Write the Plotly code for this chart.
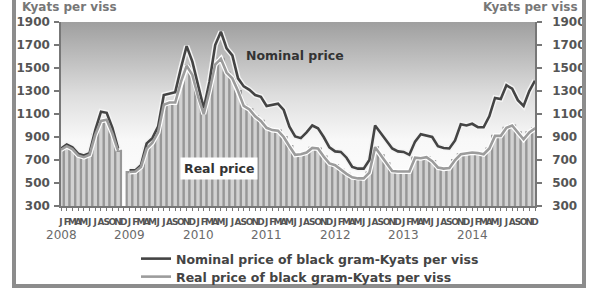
import plotly.graph_objects as go

# ---------------- data ----------------
years = ["2008", "2009", "2010", "2011", "2012", "2013", "2014"]
month_letters = ["J", "F", "M", "A", "M", "J", "J", "A", "S", "O", "N", "D"]

nominal_price = [
    800, 835, 810, 755, 740, 760, 960, 1120, 1110, 980, 800, None,      # 2008
    610, 610, 655, 845, 890, 990, 1265, 1280, 1290, 1500, 1690, 1555,   # 2009
    1340, 1150, 1380, 1700, 1815, 1670, 1610, 1410, 1340, 1310, 1265, 1250,  # 2010
    1170, 1180, 1190, 1135, 990, 905, 890, 940, 1000, 975, 900, 810,    # 2011
    775, 770, 720, 640, 625, 625, 700, 1000, 930, 870, 800, 775,        # 2012
    770, 745, 860, 925, 910, 900, 820, 805, 800, 870, 1010, 1000,       # 2013
    1015, 985, 985, 1080, 1240, 1230, 1350, 1320, 1220, 1170, 1300, 1390,  # 2014
]
real_price = [
    790, 820, 795, 740, 725, 745, 920, 1040, 1050, 930, 780, None,      # 2008
    595, 600, 640, 800, 850, 940, 1180, 1200, 1200, 1380, 1520, 1440,   # 2009
    1250, 1100, 1300, 1530, 1580, 1460, 1410, 1300, 1170, 1140, 1080, 1040,  # 2010
    980, 960, 955, 900, 820, 745, 750, 765, 805, 800, 730, 670,         # 2011
    655, 615, 580, 550, 540, 540, 590, 810, 740, 670, 605, 600,         # 2012
    600, 600, 720, 715, 725, 690, 635, 625, 630, 700, 750, 760,         # 2013
    765, 760, 750, 800, 910, 910, 980, 1000, 940, 880, 940, 975,        # 2014
]
y_min, y_max, y_step = 300, 1900, 200

# ---------------- figure ----------------
months = list(range(len(nominal_price)))
tick_text = month_letters * len(years)
x_first, x_last = months[0], months[-1]

W, H = 594, 290
L, R, T, B = 61, 59, 22, 84
pw, ph = W - L - R, H - T - B

def px_x(p):
    return (p - L) / pw

def px_y(p):
    return (H - B - p) / ph

FONT = "DejaVu Sans"

fig = go.Figure()

# plot-area gradient background (base subplot)
fig.add_trace(go.Scatter(
    x=[x_first, x_last, x_last, x_first, x_first],
    y=[y_min, y_min, y_max, y_max, y_min],
    fill="toself", mode="none",
    fillgradient=dict(type="vertical",
                      colorscale=[[0, "#ffffff"], [0.36, "#f8f8f8"],
                                  [0.6, "#dedede"], [1, "#9f9f9f"]]),
    hoverinfo="skip", showlegend=False, yaxis="y"))

# striped bars of real price (overlay subplot)
fig.add_trace(go.Bar(
    x=months, y=real_price, width=1,
    marker=dict(color="#d2d2d2", line=dict(width=2.2, color="#979797")),
    hoverinfo="skip", showlegend=False, yaxis="y2"))

# white halos
fig.add_trace(go.Scatter(
    x=months, y=real_price, mode="lines",
    line=dict(color="#ffffff", width=5), connectgaps=False,
    hoverinfo="skip", showlegend=False, yaxis="y2"))
fig.add_trace(go.Scatter(
    x=months, y=nominal_price, mode="lines",
    line=dict(color="#f4f4f4", width=5.5), connectgaps=False,
    hoverinfo="skip", showlegend=False, yaxis="y2"))

fig.add_trace(go.Scatter(
    x=months, y=nominal_price, mode="lines",
    name="Nominal price of black gram-Kyats per viss",
    line=dict(color="#444444", width=2.6), connectgaps=False, yaxis="y2",
    legend="legend"))
fig.add_trace(go.Scatter(
    x=months, y=real_price, mode="lines",
    name="Real price of black gram-Kyats per viss",
    line=dict(color="#9c9c9c", width=2.6), connectgaps=False, yaxis="y2",
    legend="legend2"))

tickfont = dict(family=FONT, size=12, color="#555555", weight="bold")
yax_common = dict(
    range=[y_min, y_max], dtick=y_step, tick0=y_min,
    showgrid=False, zeroline=False,
    showline=True, linecolor="#777777", linewidth=1.5,
    ticks="outside", ticklen=5, tickcolor="#777777", tickwidth=1.5,
    tickfont=tickfont,
)

legend_font = dict(family=FONT, size=12.5, color="#444444", weight="bold")
legend_common = dict(xanchor="left", yanchor="middle", orientation="v",
                     bgcolor="rgba(0,0,0,0)", font=legend_font, itemwidth=30)

fig.update_layout(
    width=W, height=H,
    margin=dict(l=L, r=R, t=T, b=B, pad=0, autoexpand=False),
    paper_bgcolor="#ffffff", plot_bgcolor="#ffffff",
    barmode="overlay",
    font=dict(family=FONT, size=11, color="#555555"),
    xaxis=dict(
        range=[x_first, x_last], tickmode="array",
        tickvals=months, ticktext=tick_text, tickangle=0,
        tickfont=dict(family=FONT, size=9, color="#555555", weight="bold"),
        showgrid=False, zeroline=False,
        showline=True, linecolor="#777777", linewidth=1.5,
        ticks="outside", ticklen=3, tickcolor="#777777",
        ticklabelstandoff=3,
    ),
    yaxis=dict(side="left", ticklabelstandoff=2, **yax_common),
    yaxis2=dict(side="right", overlaying="y", matches="y",
                ticklabelstandoff=8, **yax_common),
    legend=dict(x=px_x(136), y=px_y(259), **legend_common),
    legend2=dict(x=px_x(136), y=px_y(277), **legend_common),
    showlegend=True,
)

# year labels under each January
for k, yr in enumerate(years):
    fig.add_annotation(
        x=months[k * len(month_letters)], y=px_y(235), xref="x", yref="paper",
        text=yr, showarrow=False, xanchor="center", yanchor="middle",
        font=dict(family=FONT, size=12, color="#6a6a6a"))

# unit labels
unit_font = dict(family=FONT, size=12, color="#777777", weight="bold")
fig.add_annotation(x=px_x(20), y=px_y(7), xref="paper", yref="paper",
                   text="Kyats per viss", showarrow=False,
                   xanchor="left", yanchor="middle", font=unit_font)
fig.add_annotation(x=px_x(580), y=px_y(7), xref="paper", yref="paper",
                   text="Kyats per viss", showarrow=False,
                   xanchor="right", yanchor="middle", font=unit_font)

# in-chart labels
fig.add_annotation(x=41, y=1613, xref="x", yref="y",
                   text="Nominal price", showarrow=False,
                   font=dict(family=FONT, size=12.5, color="#333333", weight="bold"))
fig.add_annotation(x=27.7, y=622, xref="x", yref="y",
                   text="Real price", showarrow=False, bgcolor="#ffffff",
                   borderpad=3,
                   font=dict(family=FONT, size=12.5, color="#333333", weight="bold"))

# outer frame
fig.add_shape(type="rect", xref="paper", yref="paper",
              x0=px_x(14), x1=px_x(584), y0=px_y(286), y1=px_y(-10),
              line=dict(color="#8c8c8c", width=4), fillcolor="rgba(0,0,0,0)",
              layer="above")

# remove the default page margin so the figure sits at the window's corner
fig.write_html("out.html", config={"displayModeBar": False},
               post_script="document.body.style.margin='0px';")
